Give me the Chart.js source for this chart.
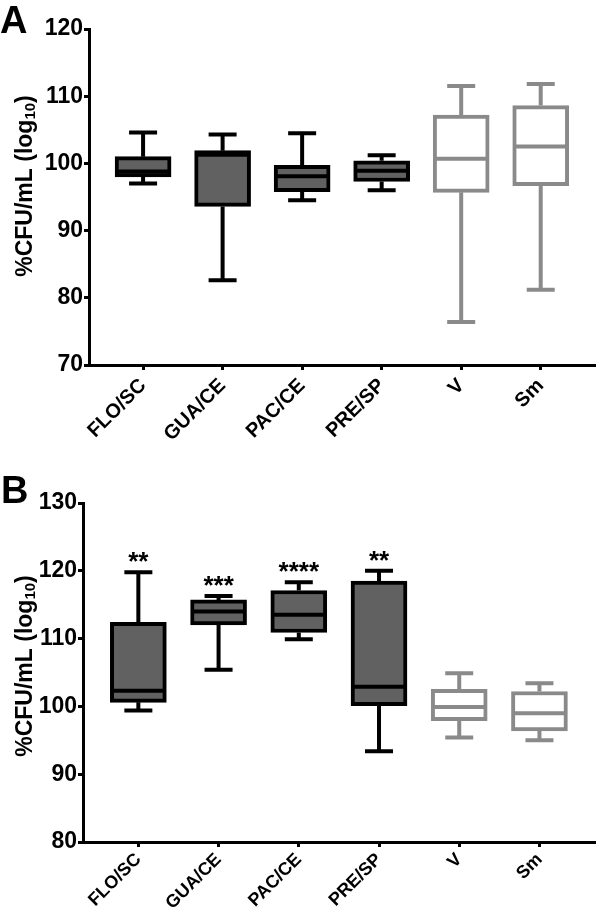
<!DOCTYPE html>
<html>
<head>
<meta charset="utf-8">
<script src="https://cdn.jsdelivr.net/npm/chart.js@4.4.1/dist/chart.umd.min.js"></script>
<style>
    body { margin: 0; background: #fff; }
    #wrap { position: relative; width: 596px; height: 913px; }
    canvas { position: absolute; left: 0; }
</style>
</head>
<body>
<div id="wrap">
    <canvas id="chartA" width="596" height="456" style="top:0"></canvas>
    <canvas id="chartB" width="596" height="457" style="top:456px"></canvas>
</div>
<script>
const categories = ['FLO/SC', 'GUA/CE', 'PAC/CE', 'PRE/SP', 'V', 'Sm'];

// panel A
const minA = [97.0, 82.6, 94.5, 96.0, 76.4, 81.2];
const q1A = [98.0, 93.6, 95.8, 97.3, 95.7, 96.7];
const medA = [98.8, 101.3, 98.1, 98.9, 100.7, 102.5];
const q3A = [101.0, 101.9, 99.7, 100.4, 107.2, 108.6];
const maxA = [104.6, 104.3, 104.5, 101.2, 111.5, 111.8];
const starsA = ['', '', '', '', '', ''];

// panel B
const minB = [99.4, 105.4, 109.9, 93.4, 95.4, 95.0];
const q1B = [100.6, 112.0, 110.9, 100.1, 97.9, 96.4];
const medB = [102.3, 114.0, 113.5, 102.9, 99.9, 99.0];
const q3B = [112.4, 115.7, 117.1, 118.5, 102.5, 102.2];
const maxB = [119.8, 116.3, 118.3, 120.0, 104.9, 103.4];
const starsB = ['**', '***', '****', '**', '', ''];

const yTicksA = [70, 80, 90, 100, 110, 120];
const yTicksB = [80, 90, 100, 110, 120, 130];

const FONT = "'Liberation Sans', Arial, sans-serif";
const darkFill = '#616161';
const grayLine = '#8a8a8a';
const lineColors = categories.map((c, i) => i < 4 ? '#000' : grayLine);
const fillColors = categories.map((c, i) => i < 4 ? darkFill : '#fff');

// whiskers, medians and stars on top of the floating bars
const boxExtras = {
    id: 'boxExtras',
    afterDatasetsDraw(chart, args, opts) {
        const ctx = chart.ctx;
        const y = chart.scales.y;
        const meta = chart.getDatasetMeta(0);
        ctx.save();
        ctx.lineWidth = 4;
        ctx.lineCap = 'butt';
        meta.data.forEach((el, i) => {
            const x = el.x;
            const half = el.width / 2;
            ctx.strokeStyle = lineColors[i];
            ctx.beginPath();
            // upper whisker
            ctx.moveTo(x, y.getPixelForValue(opts.q3[i]));
            ctx.lineTo(x, y.getPixelForValue(opts.max[i]));
            ctx.moveTo(x - 14, y.getPixelForValue(opts.max[i]));
            ctx.lineTo(x + 14, y.getPixelForValue(opts.max[i]));
            // lower whisker
            ctx.moveTo(x, y.getPixelForValue(opts.q1[i]));
            ctx.lineTo(x, y.getPixelForValue(opts.min[i]));
            ctx.moveTo(x - 14, y.getPixelForValue(opts.min[i]));
            ctx.lineTo(x + 14, y.getPixelForValue(opts.min[i]));
            // median
            ctx.moveTo(x - half + 2, y.getPixelForValue(opts.med[i]));
            ctx.lineTo(x + half - 2, y.getPixelForValue(opts.med[i]));
            ctx.stroke();

            if (opts.stars[i]) {
                ctx.fillStyle = '#000';
                ctx.font = 'bold 26px ' + FONT;
                ctx.textAlign = 'center';
                ctx.textBaseline = 'middle';
                ctx.fillText(opts.stars[i], x, y.getPixelForValue(opts.max[i]) - 9);
            }
        });
        ctx.restore();
    }
};

// panel letter and y title with subscript
const panelText = {
    id: 'panelText',
    afterDraw(chart, args, opts) {
        const ctx = chart.ctx;
        ctx.save();
        ctx.fillStyle = '#000';
        ctx.font = 'bold 38px ' + FONT;
        ctx.textAlign = 'left';
        ctx.textBaseline = 'alphabetic';
        ctx.fillText(opts.letter, opts.letterX, opts.letterY);

        ctx.translate(opts.titleX, opts.titleY);
        ctx.rotate(-Math.PI / 2);
        const main = '%CFU/mL (log';
        const sub = '10';
        ctx.font = 'bold 23px ' + FONT;
        const w1 = ctx.measureText(main).width;
        const w3 = ctx.measureText(')').width;
        ctx.font = 'bold 15px ' + FONT;
        const w2 = ctx.measureText(sub).width;
        let x0 = -(w1 + w2 + w3) / 2;
        ctx.textBaseline = 'middle';
        ctx.font = 'bold 23px ' + FONT;
        ctx.fillText(main, x0, 0);
        ctx.font = 'bold 15px ' + FONT;
        ctx.fillText(sub, x0 + w1, 5);
        ctx.font = 'bold 23px ' + FONT;
        ctx.fillText(')', x0 + w1 + w2, 0);
        ctx.restore();
    }
};

function makePanel(id, d) {
    const ctx = document.getElementById(id).getContext('2d');
    return new Chart(ctx, {
        type: 'bar',
        data: {
            datasets: [{
                data: categories.map((c, i) => ({ x: i, y: [d.q1[i], d.q3[i]] })),
                backgroundColor: fillColors,
                borderColor: lineColors,
                borderWidth: 4,
                borderSkipped: false,
                barThickness: 56
            }]
        },
        options: {
            responsive: false,
            animation: false,
            events: [],
            layout: { padding: { top: d.top, right: 2, left: 0, bottom: 0 } },
            plugins: {
                legend: { display: false },
                tooltip: { enabled: false },
                boxExtras: d,
                panelText: d.text
            },
            scales: {
                x: {
                    type: 'linear',
                    min: d.xMin,
                    max: d.xMax,
                    offset: false,
                    afterFit: s => { s.height = d.xHeight; },
                    border: { display: true, color: '#000', width: 3 },
                    grid: { offset: false, drawOnChartArea: false, drawTicks: true, tickLength: 5, color: '#000', lineWidth: 3 },
                    ticks: {
                        stepSize: 1,
                        includeBounds: false,
                        autoSkip: false,
                        maxRotation: 45,
                        minRotation: 45,
                        padding: d.labelPad,
                        color: '#000',
                        font: { family: FONT, size: d.labelSize, weight: 'bold' },
                        callback: v => Number.isInteger(v) ? (categories[v] || '') : ''
                    }
                },
                y: {
                    min: d.yTicks[0],
                    max: d.yTicks[d.yTicks.length - 1],
                    afterFit: s => { s.width = d.yWidth; },
                    afterBuildTicks: s => { s.ticks = d.yTicks.map(v => ({ value: v })); },
                    border: { display: true, color: '#000', width: 3 },
                    grid: { drawOnChartArea: false, drawTicks: true, tickLength: 5, color: '#000', lineWidth: 3 },
                    ticks: {
                        padding: 1,
                        color: '#000',
                        font: { family: FONT, size: 23, weight: 'bold' }
                    }
                }
            }
        },
        plugins: [boxExtras, panelText]
    });
}

makePanel('chartA', {
    min: minA, q1: q1A, med: medA, q3: q3A, max: maxA, stars: starsA,
    yTicks: yTicksA, top: 29, yWidth: 89, xHeight: 91, xMin: -0.68, xMax: 5.67,
    labelSize: 20, labelPad: 4,
    text: { letter: 'A', letterX: 0, letterY: 33, titleX: 26, titleY: 186 }
});

makePanel('chartB', {
    min: minB, q1: q1B, med: medB, q3: q3B, max: maxB, stars: starsB,
    yTicks: yTicksB, top: 47, yWidth: 83, xHeight: 71, xMin: -0.69, xMax: 5.68,
    labelSize: 18, labelPad: 2,
    text: { letter: 'B', letterX: 1, letterY: 47, titleX: 26, titleY: 210 }
});
</script>
</body>
</html>
